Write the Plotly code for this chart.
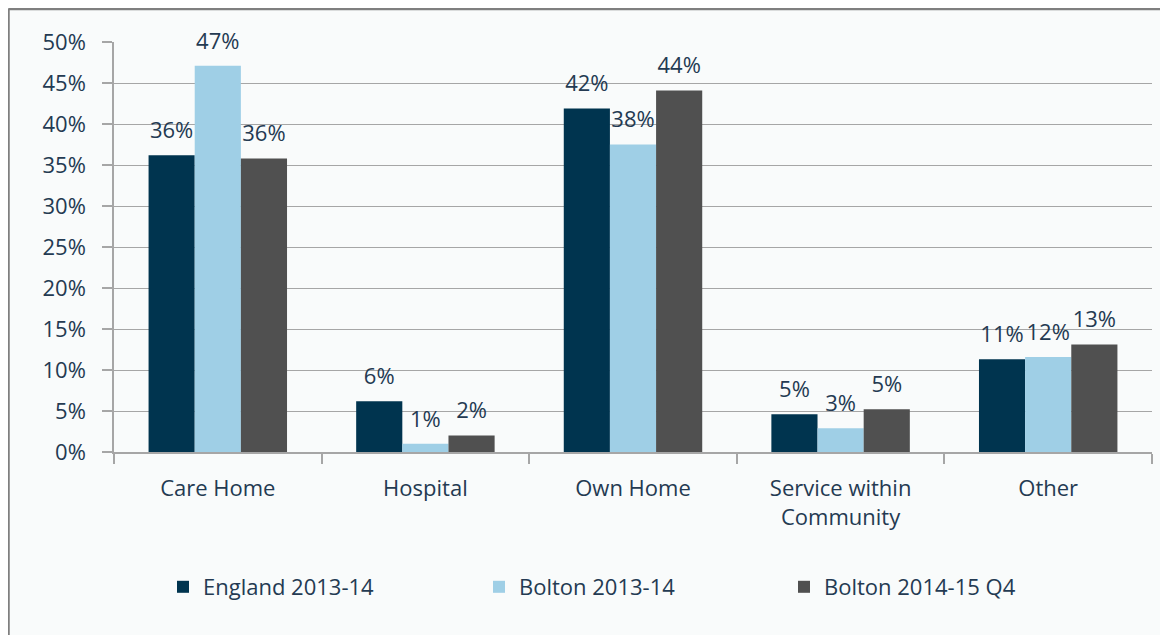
import plotly.graph_objects as go

categories = ["Care Home", "Hospital", "Own Home", "Service within<br>Community", "Other"]
series_names = ["England 2013-14", "Bolton 2013-14", "Bolton 2014-15 Q4"]
england_2013_14 = [0.362, 0.062, 0.419, 0.046, 0.113]
bolton_2013_14 = [0.471, 0.010, 0.375, 0.029, 0.116]
bolton_2014_15_q4 = [0.358, 0.020, 0.441, 0.052, 0.131]
y_ticks = [0, 0.05, 0.10, 0.15, 0.20, 0.25, 0.30, 0.35, 0.40, 0.45, 0.50]

colors = ["#00344f", "#9fcfe6", "#505050"]
text_color = "#243a52"
font_family = "'Open Sans', sans-serif"
FS = 22

# page has an 8px body margin; work in page pixels and convert
OFF = 8
PAGE_W, PAGE_H = 1168, 635
W, H = PAGE_W - OFF, PAGE_H - OFF
L, R, T, B = 114 - OFF, 1152 - OFF, 42 - OFF, 452 - OFF
pw, ph = R - L, B - T


def px(xpage):
    return (xpage - OFF - L) / pw


def py(ypage):
    return (B - (ypage - OFF)) / ph


fig = go.Figure()
all_series = [england_2013_14, bolton_2013_14, bolton_2014_15_q4]
legend_ids = ["legend", "legend2", "legend3"]
for i, (name, vals, col) in enumerate(zip(series_names, all_series, colors)):
    fig.add_trace(go.Bar(
        x=categories, y=vals, name=name, marker=dict(color=col, line=dict(width=0)),
        offsetgroup=str(i), legend=legend_ids[i],
    ))
for i, vals in enumerate(all_series):
    fig.add_trace(go.Scatter(
        x=categories, y=vals, mode="markers+text", offsetgroup=str(i), showlegend=False,
        marker=dict(size=17, color="rgba(0,0,0,0)"),
        texttemplate="%{y:.0%}", textposition="top center", cliponaxis=False,
        textfont=dict(size=FS, color=text_color, family=font_family), hoverinfo="skip",
    ))

border = "#7f7f7f"
fig.add_shape(type="line", xref="paper", yref="paper",
              x0=px(8.5), x1=px(8.5), y0=py(8.5), y1=py(650),
              line=dict(color=border, width=2.5))
fig.add_shape(type="line", xref="paper", yref="paper",
              x0=px(8.5), x1=px(1190), y0=py(9), y1=py(9),
              line=dict(color=border, width=2.5))

legend_text_x = [205, 521, 826]
leg_common = dict(orientation="h", xanchor="left", yanchor="middle",
                  font=dict(size=FS, color=text_color, family=font_family),
                  bgcolor="rgba(0,0,0,0)", borderwidth=0)

fig.update_layout(
    width=W, height=H,
    margin=dict(l=L, r=W - R, t=T, b=H - B, pad=0),
    paper_bgcolor="#f9fbfb", plot_bgcolor="#f9fbfb",
    barmode="group", bargap=0.333, bargroupgap=0,
    scattermode="group", scattergap=0.333,
    font=dict(family=font_family, size=FS, color=text_color),
    showlegend=True,
    legend=dict(x=px(legend_text_x[0] - 42), y=py(587), **leg_common),
    legend2=dict(x=px(legend_text_x[1] - 42), y=py(587), **leg_common),
    legend3=dict(x=px(legend_text_x[2] - 42), y=py(587), **leg_common),
    xaxis=dict(showline=True, linecolor="#a6a6a6", linewidth=1.5, ticks="outside", tickson="boundaries",
               ticklen=10, tickcolor="#a6a6a6", tickwidth=1.5, showgrid=False, ticklabelstandoff=16,
               tickfont=dict(size=FS, color=text_color)),
    yaxis=dict(range=[0, 0.5], tickvals=y_ticks, tickformat=".0%", showline=True, linecolor="#a6a6a6",
               linewidth=1.5, ticks="outside", ticklen=10, tickcolor="#a6a6a6", tickwidth=1.5,
               gridcolor="#a6a6a6", gridwidth=1.2, zeroline=False, ticklabelstandoff=12,
               tickfont=dict(size=FS, color=text_color)),
)

fig.write_html("out.html")
